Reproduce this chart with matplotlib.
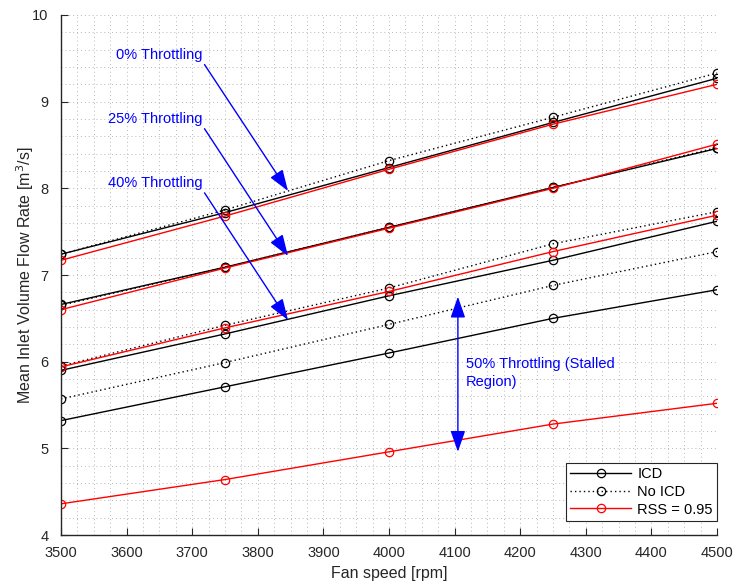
"""Inlet volume flow rate vs fan speed for several throttling levels."""
import matplotlib
matplotlib.use("Agg")
import matplotlib.pyplot as plt
from matplotlib.lines import Line2D
from matplotlib.ticker import MultipleLocator

plt.rcParams["font.family"] = ["Liberation Sans", "DejaVu Sans"]

speed = [3500, 3750, 4000, 4250, 4500]

# 0 % throttling
icd_0 = [7.24, 7.72, 8.24, 8.76, 9.27]
noicd_0 = [7.24, 7.75, 8.32, 8.82, 9.33]
rss_0 = [7.17, 7.68, 8.22, 8.74, 9.20]

# 25 % throttling
icd_25 = [6.66, 7.09, 7.55, 8.01, 8.46]
noicd_25 = [6.65, 7.09, 7.55, 8.01, 8.47]
rss_25 = [6.60, 7.08, 7.54, 8.00, 8.51]

# 40 % throttling
icd_40 = [5.90, 6.32, 6.76, 7.17, 7.62]
noicd_40 = [5.95, 6.42, 6.85, 7.36, 7.73]
rss_40 = [5.94, 6.39, 6.81, 7.27, 7.69]

# 50 % throttling (stalled)
icd_50 = [5.32, 5.71, 6.10, 6.50, 6.83]
noicd_50 = [5.57, 5.99, 6.43, 6.88, 7.27]
rss_50 = [4.36, 4.64, 4.96, 5.28, 5.52]

levels = [
    (icd_0, noicd_0, rss_0),
    (icd_25, noicd_25, rss_25),
    (icd_40, noicd_40, rss_40),
    (icd_50, noicd_50, rss_50),
]

fig = plt.figure(figsize=(7.33, 5.83), dpi=100)
ax = fig.add_axes([0.0832, 0.0823, 0.8950, 0.8920])

mk = dict(marker="o", markersize=6, markerfacecolor="none", linewidth=1.0, markeredgewidth=0.9)
dotted = (0, (1, 2.2))
for icd, noicd, rss in levels:
    ax.plot(speed, icd, color="black", linestyle="-", **mk)
    ax.plot(speed, noicd, color="black", linestyle=dotted, **mk)
    ax.plot(speed, rss, color="red", linestyle="-", **mk)

ax.set_xlim(3500, 4500)
ax.set_ylim(4, 10)
ax.xaxis.set_major_locator(MultipleLocator(100))
ax.xaxis.set_minor_locator(MultipleLocator(25))
ax.yaxis.set_major_locator(MultipleLocator(1))
ax.yaxis.set_minor_locator(MultipleLocator(0.2))
ax.grid(True, which="both", color="#b8b8b8", linestyle=(0, (1, 3)), linewidth=0.7)
ax.set_axisbelow(True)
ax.tick_params(which="major", direction="in", length=5, labelsize=10.5,
               color="#262626", labelcolor="#262626")
ax.tick_params(axis="x", which="major", pad=8)
ax.tick_params(axis="y", which="major", pad=9)
ax.tick_params(which="minor", length=0)
for side in ("top", "right"):
    ax.spines[side].set_visible(False)
for side in ("left", "bottom"):
    ax.spines[side].set_color("#262626")
    ax.spines[side].set_linewidth(1.0)

ax.set_xlabel("Fan speed [rpm]", fontsize=11.5, color="#262626", labelpad=4)
ax.set_ylabel("Mean Inlet Volume Flow Rate [m$^3$/s]", fontsize=11.5, color="#262626", labelpad=-3)

blue = "#0000ff"
arrow = dict(arrowstyle="-|>,head_length=1.0,head_width=0.35", color=blue, lw=1.0,
             shrinkA=0, shrinkB=0, relpos=(1.0, 0.0), mutation_scale=13)
for label, tail, tip in [
    ("0% Throttling", (3716, 9.46), (3846, 7.97)),
    ("25% Throttling", (3716, 8.72), (3846, 7.22)),
    ("40% Throttling", (3716, 7.98), (3846, 6.48)),
]:
    ax.annotate(label, xy=tip, xytext=tail, ha="right", va="bottom",
                fontsize=10.5, color=blue, arrowprops=arrow)

ax.annotate("", xy=(4105, 6.75), xytext=(4105, 4.96),
            arrowprops=dict(arrowstyle="<|-|>,head_length=1.0,head_width=0.35", color=blue,
                            lw=1.0, shrinkA=0, shrinkB=0, mutation_scale=13))
ax.text(4117, 5.87, "50% Throttling (Stalled\nRegion)", ha="left", va="center",
        fontsize=10.5, color=blue, linespacing=1.4)

handles = [
    Line2D([0], [0], color="black", linestyle="-", **mk),
    Line2D([0], [0], color="black", linestyle=dotted, **mk),
    Line2D([0], [0], color="red", linestyle="-", **mk),
]
leg = ax.legend(handles, ["ICD", "No ICD", "RSS = 0.95"], loc="lower right",
                bbox_to_anchor=(1.0, 0.027), fontsize=10.5, handlelength=4.2,
                fancybox=False, framealpha=1.0, edgecolor="#262626",
                borderpad=0.3, labelspacing=0.25, handletextpad=0.4, borderaxespad=0.0)
leg.get_frame().set_linewidth(0.8)

fig.savefig("out.png", dpi=100)
